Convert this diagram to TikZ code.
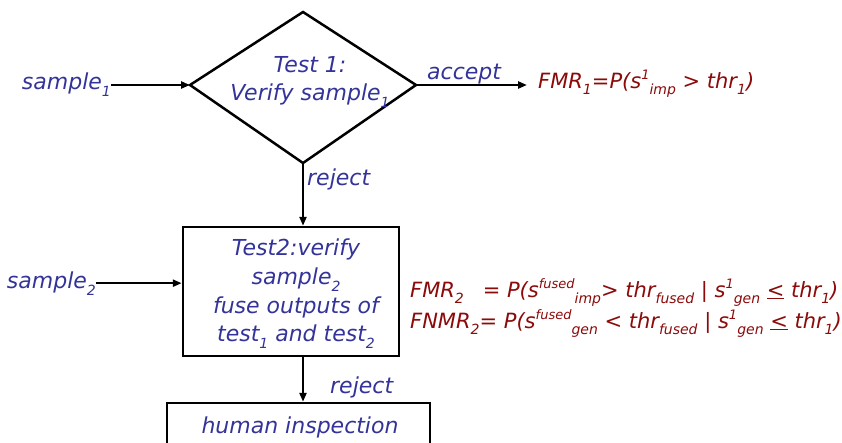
\documentclass[tikz,border=0pt]{standalone}
\usepackage{fontspec}
\setmainfont{DejaVu Sans}
\usetikzlibrary{arrows.meta}
\definecolor{tblue}{HTML}{333399}
\definecolor{tred}{HTML}{8B0A0A}
\newcommand\lowt[1]{\raisebox{-0.32em}{\fontsize{14}{14}\selectfont #1}}
\newcommand\hight[1]{\raisebox{0.42em}{\fontsize{13}{13}\selectfont #1}}
\begin{document}
\begin{tikzpicture}[x=1pt,y=-1pt,
  lbl/.style={inner sep=0pt, font=\fontsize{22}{28.7}\selectfont\itshape, text=tblue},
  eq/.style={inner sep=0pt, font=\fontsize{21}{30}\selectfont\itshape, text=tred},
  shapeline/.style={draw, line width=2.5pt, line join=miter},
  conn/.style={line width=2.2pt, -{Triangle[length=9pt,width=7pt]}}]
\useasboundingbox (0,0) rectangle (842,442);
% diamond
\coordinate (dt) at (303,12);
\coordinate (dl) at (190,85);
\coordinate (dr) at (416,85);
\coordinate (db) at (303,163);
\draw[shapeline] (dt) -- (dr) -- (db) -- (dl) -- cycle;
\node[lbl, align=center] (d1) at (310,82) {Test 1:\\Verify sample\lowt{1}};
% box 2
\node[shapeline, minimum width=216pt, minimum height=129pt, inner sep=0pt] (b2) at (291,291.5) {};
\node[lbl, align=center] (b2t) at (296,294) {Test2:verify\\sample\lowt{2}\\fuse outputs of\\test\lowt{1} and test\lowt{2}};
% human inspection
\node[shapeline, minimum width=263pt, minimum height=60pt, inner sep=0pt] (hi) at (298.5,433) {};
\node[lbl] (hit) at (300,427) {human inspection};
% labels
\node[lbl, anchor=base east] (s1) at (111,89) {sample\lowt{1}};
\node[lbl, anchor=base east] (s2) at (96,288) {sample\lowt{2}};
\node[lbl, anchor=base west] (acc) at (427,79) {accept};
\node[lbl, anchor=base west] (rj1) at (307,185) {reject};
\node[lbl, anchor=base west] (rj2) at (330,393) {reject};
\coordinate (a1) at (527,85);
\node[eq, anchor=base west] (f1) at (538,88) {FMR\lowt{1}=P(s\hight{1}\lowt{imp} > thr\lowt{1})};
\node[eq, anchor=base west] (f2a) at (410,297) {FMR\lowt{2}\hspace{0.9em}= P(s\hight{fused}\lowt{imp}> thr\lowt{fused} | s\hight{1}\lowt{gen} \underline{<} thr\lowt{1})};
\node[eq, anchor=base west] (f2b) at (410,328) {FNMR\lowt{2}= P(s\hight{fused}\lowt{gen} < thr\lowt{fused} | s\hight{1}\lowt{gen} \underline{<} thr\lowt{1})};
% connectors
\draw[conn] (s1.east |- dl) -- (dl);
\draw[conn] (dr) -- (a1);
\draw[conn] (db) -- (db |- b2.north);
\draw[conn] (s2.east) -- (b2.west |- s2.east);
\draw[conn] (b2.south -| db) -- (hi.north -| db);
\end{tikzpicture}
\end{document}
